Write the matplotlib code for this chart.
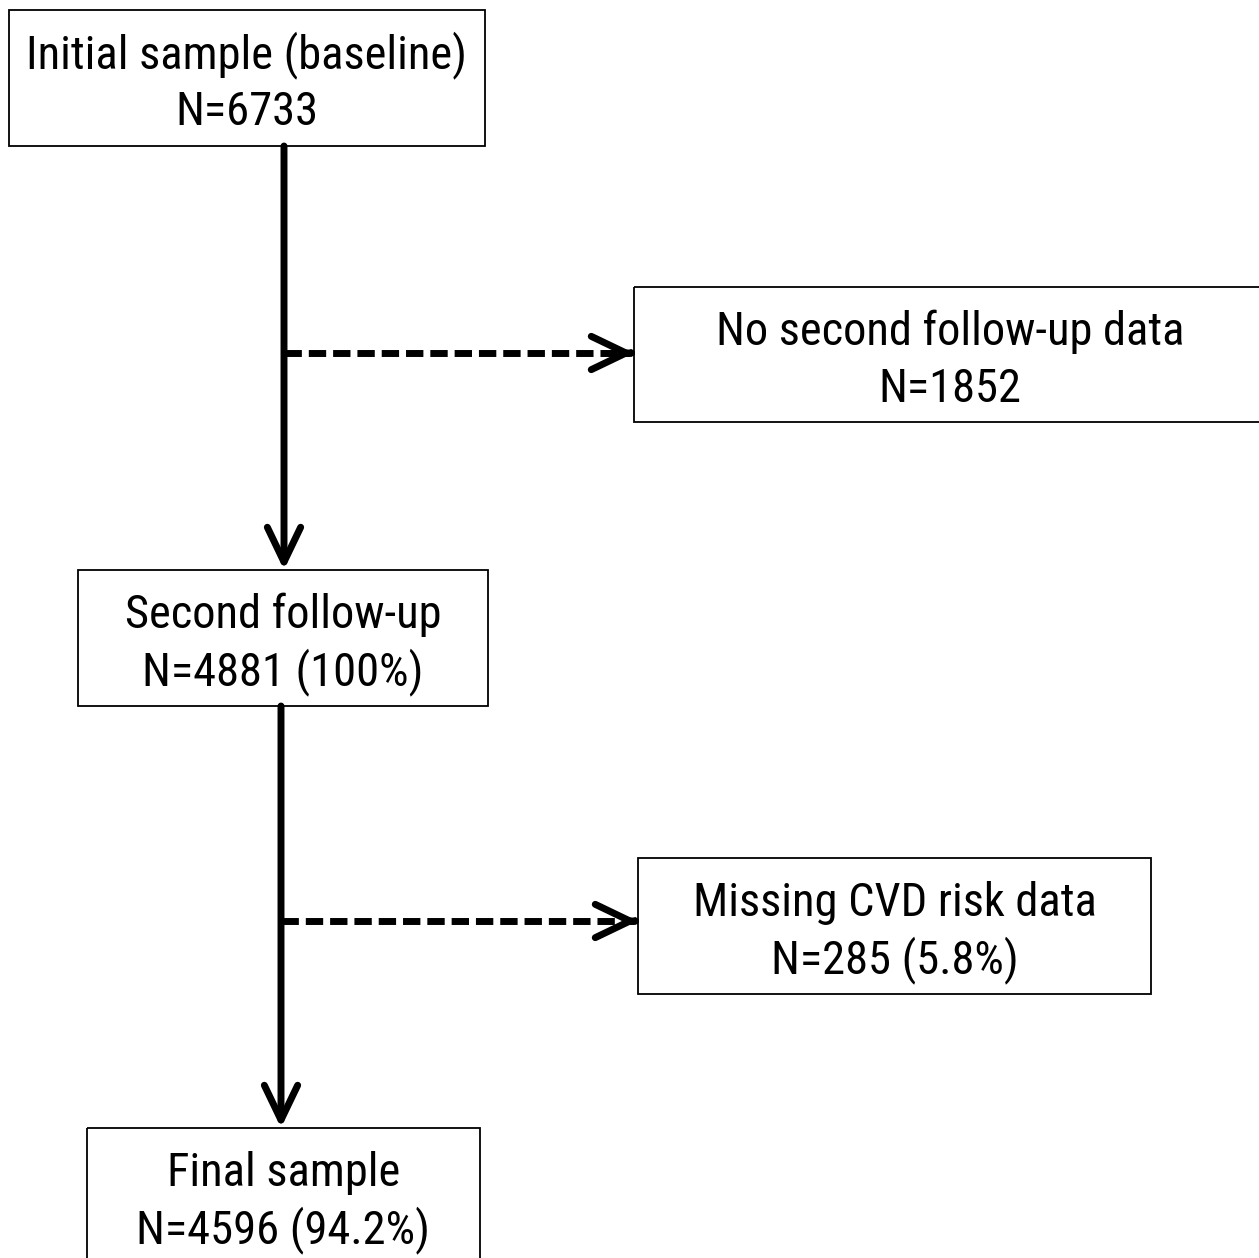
import matplotlib
matplotlib.use("Agg")
import matplotlib.pyplot as plt
from matplotlib import font_manager as fm
from matplotlib.patches import Rectangle

# ---- content ----
box_titles = ["Initial sample (baseline)", "No second follow-up data",
              "Second follow-up", "Missing CVD risk data", "Final sample"]
box_counts = [6733, 1852, 4881, 285, 4596]
box_pcts = [None, None, "100%", "5.8%", "94.2%"]

# ---- layout (pixels, y downward) ----
box_rects = [(9, 10, 485, 146), (634, 287, 1266, 422), (78, 570, 488, 706),
             (638, 858, 1151, 994), (87, 1128, 480, 1290)]
main_arrows = [(284, 146, 570), (281, 706, 1128)]      # x, y_start, y_end
side_arrows = [(284, 634, 353), (281, 638, 921)]      # x_start, x_end, y

W, H = 1259, 1258
fig = plt.figure(figsize=(W / 100, H / 100), dpi=100)
ax = fig.add_axes([0, 0, 1, 1])
ax.set_xlim(0, W)
ax.set_ylim(H, 0)
ax.axis("off")

fprops = dict(family="Liberation Sans", fontsize=31)
candidates = [
    (dict(family="Liberation Sans Narrow"), 36),
    (dict(family="Roboto Condensed"), 33.5),
    (dict(family="Roboto", stretch="condensed"), 33.5),
    (dict(family="DejaVu Sans", stretch="condensed"), 32),
    (dict(family="Open Sans", stretch="condensed"), 32),
]
for props, size in candidates:
    fp = fm.FontProperties(**props)
    try:
        path = fm.findfont(fp, fallback_to_default=False)
    except Exception:
        continue
    low = path.lower()
    if "narrow" in low or "condensed" in low:
        fprops = dict(props, fontsize=size)
        break

for (x0, y0, x1, y1), title, n, p in zip(box_rects, box_titles, box_counts, box_pcts):
    ax.add_patch(Rectangle((x0, y0), x1 - x0, y1 - y0, fill=False, ec="black", lw=1.3))
    cx = (x0 + x1) / 2
    line2 = f"N={n}" + (f" ({p})" if p else "")
    ax.text(cx, y0 + 58, title, ha="center", va="baseline", **fprops)
    ax.text(cx, y0 + 115, line2, ha="center", va="baseline", **fprops)

head = "->,head_length=1.25,head_width=0.6"
for x, ys, ye in main_arrows:
    ax.annotate("", xy=(x, ye), xytext=(x, ys),
                arrowprops=dict(arrowstyle=head, lw=5, color="black", shrinkA=0, shrinkB=0,
                                mutation_scale=20, capstyle="round", joinstyle="round"))

for xs, xe, y in side_arrows:
    ax.plot([xs, xe - 4], [y, y], color="black", lw=5, ls=(0, (2.5, 1.0)), dash_capstyle="butt")
    ax.annotate("", xy=(xe, y), xytext=(xe - 3, y),
                arrowprops=dict(arrowstyle=head, lw=5, color="black", shrinkA=0, shrinkB=0,
                                mutation_scale=20, capstyle="round", joinstyle="round"))

fig.savefig("out.png", dpi=100)
